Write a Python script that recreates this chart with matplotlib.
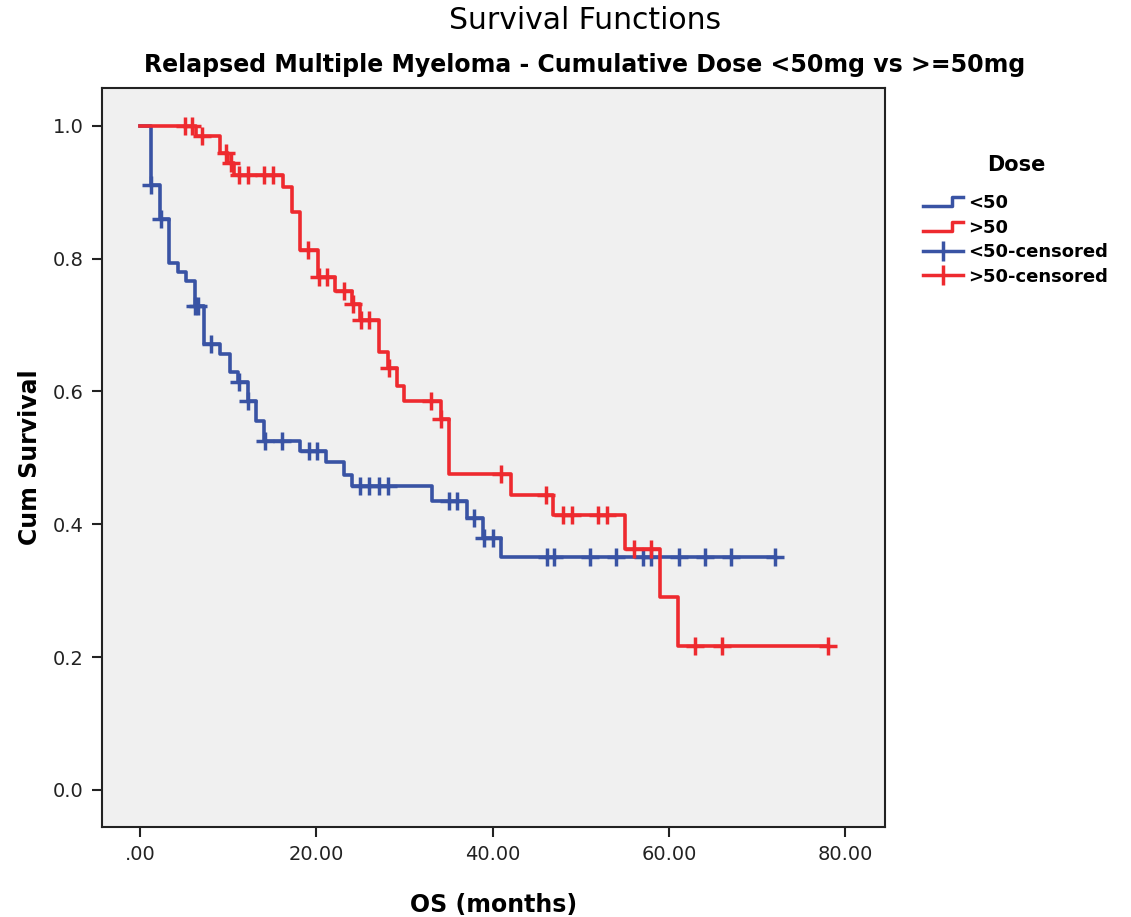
import numpy as np
import matplotlib
matplotlib.use("Agg")
import matplotlib.pyplot as plt
from matplotlib.lines import Line2D
from matplotlib.legend_handler import HandlerBase

plt.rcParams['font.family'] = ['DejaVu Sans']

# Kaplan-Meier steps (months, cumulative survival after the event)
low_event_t = [1.2, 2.3, 3.3, 4.3, 5.2, 6.2, 7.3, 9.1, 10.2, 11.1, 12.2, 13.2, 14.1,
               18.2, 21.1, 23.1, 24.1, 33.1, 37.1, 38.9, 41.0]
low_event_s = [0.911, 0.860, 0.794, 0.780, 0.767, 0.728, 0.671, 0.657, 0.629, 0.614,
               0.585, 0.555, 0.525, 0.511, 0.494, 0.474, 0.457, 0.435, 0.410, 0.380, 0.350]
low_censor_t = [1.3, 2.4, 6.3, 6.6, 8.1, 11.2, 12.3, 14.2, 16.1, 19.2, 20.1, 25.0, 26.0,
                27.1, 28.1, 35.0, 36.0, 37.9, 39.0, 40.0, 46.2, 47.0, 51.0, 54.0, 57.0,
                58.0, 61.1, 64.1, 67.0, 72.0]

high_event_t = [6.4, 9.1, 10.0, 10.7, 16.2, 17.2, 18.2, 20.2, 22.1, 24.1, 25.0, 27.1,
                28.1, 29.1, 30.0, 34.1, 35.1, 42.1, 46.9, 55.0, 59.0, 61.0]
high_event_s = [0.985, 0.959, 0.944, 0.926, 0.908, 0.870, 0.813, 0.773, 0.752, 0.731,
                0.708, 0.660, 0.636, 0.608, 0.585, 0.559, 0.475, 0.444, 0.414, 0.362,
                0.290, 0.217]
high_censor_t = [5.1, 5.9, 7.0, 9.8, 10.3, 11.2, 12.2, 14.1, 15.1, 19.1, 20.3, 21.2, 23.1,
                 24.2, 25.1, 26.0, 28.2, 33.0, 34.2, 41.0, 46.1, 48.0, 49.0, 52.0, 53.0,
                 56.0, 58.0, 63.0, 66.0, 78.0]

blue = '#3953A4'
red = '#EE2A2F'


def km_curve(event_t, event_s, end_t):
    t = np.concatenate([[0.0], event_t, [end_t]])
    s = np.concatenate([[1.0], event_s, [event_s[-1]]])
    return t, s


def surv_at(times, event_t, event_s):
    idx = np.searchsorted(event_t, times, side='right')
    s = np.concatenate([[1.0], event_s])
    return s[idx]


class StepHandler(HandlerBase):
    def create_artists(self, legend, orig_handle, xdescent, ydescent,
                       width, height, fontsize, trans):
        x0 = -xdescent
        xs = [x0, x0 + 0.72 * width, x0 + 0.72 * width, x0 + width]
        ys = [0.15 * height - ydescent, 0.15 * height - ydescent,
              0.85 * height - ydescent, 0.85 * height - ydescent]
        ln = Line2D(xs, ys, color=orig_handle.get_color(), lw=2.5, transform=trans)
        return [ln]


fig = plt.figure(figsize=(11.31, 9.17), dpi=100)
ax = fig.add_axes([0.0902, 0.0981, 0.6923, 0.8059])
ax.set_facecolor('#F0F0F0')

for ev_t, ev_s, cen_t, col in [(low_event_t, low_event_s, low_censor_t, blue),
                               (high_event_t, high_event_s, high_censor_t, red)]:
    t, s = km_curve(ev_t, ev_s, max(cen_t))
    ax.step(t, s, where='post', color=col, lw=2.6)
    ax.plot(cen_t, surv_at(cen_t, ev_t, ev_s), ls='none', marker='+',
            markersize=13, mew=2.5, color=col)

ax.set_xlim(-4.3, 84.5)
ax.set_ylim(-0.056, 1.057)
ax.set_xticks([0, 20, 40, 60, 80])
ax.set_xticklabels(['.00', '20.00', '40.00', '60.00', '80.00'])
ax.set_yticks([0.0, 0.2, 0.4, 0.6, 0.8, 1.0])
ax.set_yticklabels(['0.0', '0.2', '0.4', '0.6', '0.8', '1.0'])
ax.tick_params(direction='out', length=7, width=1.5, labelsize=14,
               colors='#222222', pad=6)
for sp in ax.spines.values():
    sp.set_color('#222222')
    sp.set_linewidth(1.5)

ax.set_xlabel('OS (months)', fontsize=17, fontweight='bold', labelpad=21)
ax.set_ylabel('Cum Survival', fontsize=17, fontweight='bold', labelpad=8)

fig.text(0.517, 0.978, 'Survival Functions', ha='center', va='center', fontsize=21.5)
fig.text(0.517, 0.929, 'Relapsed Multiple Myeloma - Cumulative Dose <50mg vs >=50mg',
         ha='center', va='center', fontsize=17, fontweight='bold')

h_low = Line2D([], [], color=blue)
h_high = Line2D([], [], color=red)
h_low_c = Line2D([], [], color=blue, lw=2.5, marker='|', markersize=15, mew=2.5)
h_high_c = Line2D([], [], color=red, lw=2.5, marker='|', markersize=15, mew=2.5)
leg = fig.legend([h_low, h_high, h_low_c, h_high_c],
                 ['<50', '>50', '<50-censored', '>50-censored'],
                 handler_map={h_low: StepHandler(), h_high: StepHandler()},
                 loc='upper left', bbox_to_anchor=(0.802, 0.849), frameon=False,
                 title='Dose', handlelength=2.2, handletextpad=0.3, numpoints=1,
                 labelspacing=0.36, prop={'weight': 'bold', 'size': 13})
leg.get_title().set_fontweight('bold')
leg.get_title().set_fontsize(15)
leg._legend_box.sep = 14

fig.savefig('out.png', dpi=100)
